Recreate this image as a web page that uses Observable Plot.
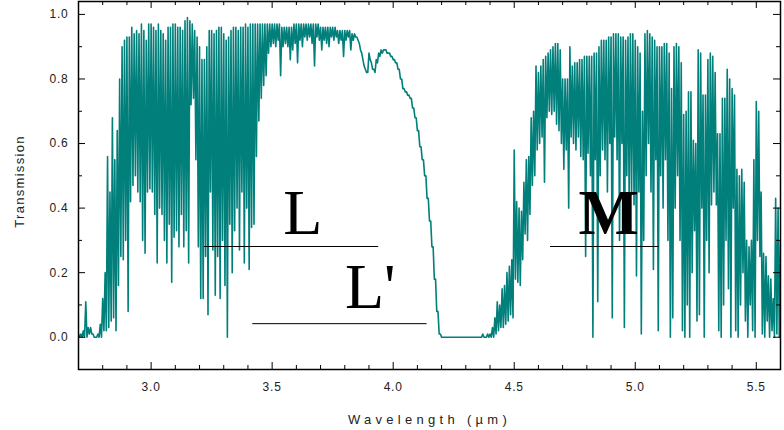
<!DOCTYPE html>
<html>
<head>
<meta charset="utf-8">
<script src="https://cdn.jsdelivr.net/npm/d3@7"></script>
<script src="https://cdn.jsdelivr.net/npm/@observablehq/plot@0.6"></script>
<style>
  html, body { margin: 0; padding: 0; background: #ffffff; }
  #chart svg { display: block; }
</style>
</head>
<body>
<div id="chart"></div>
<script>
// Spectrum sampled in 0.01 µm bins starting at 2.70 µm:
// for each bin, the highest and lowest transmission read off the picture (in %).
const wavelengthStart = 2.70;
const wavelengthStep = 0.01;

const transmissionHigh = [
  1, 1, 2, 11, 3, 3, 1, 0, 1, 4,            // 2.70
  12, 20, 56, 45, 68, 55, 64, 80, 90, 92,   // 2.80
  93, 93, 96, 94, 95, 94, 97, 95, 92, 97,   // 2.90
  97, 96, 95, 97, 95, 94, 92, 96, 96, 97,   // 3.00
  97, 96, 96, 95, 98, 99, 98, 97, 95, 93,   // 3.10
  90, 86, 86, 90, 95, 95, 94, 95, 96, 96,   // 3.20
  94, 92, 93, 95, 96, 96, 95, 96, 96, 97,   // 3.30
  96, 97, 97, 97, 97, 97, 97, 97, 97, 97,   // 3.40
  97, 97, 97, 97, 96, 96, 96, 96, 96, 97,   // 3.50
  97, 97, 97, 97, 97, 97, 97, 97, 97, 97,   // 3.60
  96, 96, 96, 96, 96, 96, 96, 95, 95, 95,   // 3.70
  95, 95, 95, 94, 94, 93, 91, 88, 84, 82,   // 3.80
  88, 85, 83, 86, 88, 89, 89, 89, 88, 87,   // 3.90
  86, 85, 83, 80, 77, 76, 75, 74, 71, 68,   // 4.00
  64, 59, 55, 50, 43, 36, 28, 18, 8, 1,     // 4.10
  0, 0, 0, 0, 0, 0, 0, 0, 0, 0,             // 4.20
  0, 0, 0, 0, 0, 0, 0, 1, 0, 1,             // 4.30
  1, 3, 6, 11, 10, 15, 16, 20, 22, 24,      // 4.40
  58, 42, 40, 39, 48, 55, 56, 68, 70, 84,   // 4.50
  82, 84, 86, 87, 88, 89, 90, 91, 91, 89,   // 4.60
  80, 80, 80, 90, 84, 85, 85, 86, 86, 87,   // 4.70
  87, 87, 87, 88, 88, 90, 92, 92, 92, 93,   // 4.80
  93, 94, 94, 94, 93, 93, 92, 93, 94, 94,   // 4.90
  92, 90, 88, 70, 94, 95, 94, 93, 92, 90,   // 5.00
  90, 90, 91, 91, 88, 77, 90, 91, 90, 85,   // 5.10
  69, 70, 76, 76, 61, 60, 89, 88, 75, 75,   // 5.20
  86, 88, 87, 82, 63, 63, 74, 74, 83, 80,   // 5.30
  77, 75, 52, 50, 52, 48, 30, 28, 30, 55,   // 5.40
  73, 70, 45, 26, 25, 19, 18, 12, 43, 40,   // 5.50
  30                                        // 5.60
];

const transmissionLow = [
  0, 0, 0, 0, 1, 1, 0, 0, 0, 0,             // 2.70
  2, 2, 3, 5, 6, 2, 16, 25, 24, 30,         // 2.80
  8, 42, 47, 50, 45, 42, 30, 26, 45, 46,    // 2.90
  45, 38, 23, 40, 38, 30, 23, 35, 17, 31,   // 3.00
  33, 28, 38, 28, 33, 23, 72, 74, 55, 28,   // 3.10
  12, 12, 25, 7, 45, 27, 13, 25, 12, 30,    // 3.20
  16, 0, 35, 20, 33, 40, 27, 45, 23, 40,    // 3.30
  21, 34, 35, 56, 67, 74, 78, 81, 88, 90,   // 3.40
  91, 90, 92, 81, 90, 91, 90, 86, 89, 91,   // 3.50
  85, 92, 90, 93, 92, 93, 91, 84, 93, 92,   // 3.60
  89, 92, 91, 90, 93, 92, 93, 91, 92, 87,   // 3.70
  92, 93, 89, 92, 93, 92, 89, 86, 83, 82,   // 3.80
  86, 83, 82, 85, 87, 88, 89, 88, 88, 87,   // 3.90
  86, 85, 83, 80, 77, 76, 75, 74, 71, 68,   // 4.00
  64, 59, 55, 50, 43, 36, 28, 18, 8, 1,     // 4.10
  0, 0, 0, 0, 0, 0, 0, 0, 0, 0,             // 4.20
  0, 0, 0, 0, 0, 0, 0, 0, 0, 0,             // 4.30
  0, 0, 1, 2, 3, 3, 4, 5, 7, 6,             // 4.40
  18, 17, 16, 24, 32, 30, 38, 47, 50, 58,   // 4.50
  60, 62, 48, 68, 70, 69, 70, 66, 64, 60,   // 4.60
  52, 58, 40, 62, 60, 58, 62, 56, 55, 25,   // 4.70
  57, 50, 0, 55, 11, 50, 58, 55, 45, 60,    // 4.80
  6, 62, 55, 30, 60, 3, 50, 40, 45, 41,     // 4.90
  19, 45, 1, 30, 50, 60, 45, 21, 55, 2,     // 5.00
  50, 40, 55, 30, 0, 6, 40, 50, 30, 2,      // 5.10
  0, 10, 0, 20, 33, 5, 7, 40, 0, 30,        // 5.20
  20, 41, 45, 41, 2, 0, 10, 30, 15, 0,      // 5.30
  40, 2, 0, 10, 20, 5, 0, 10, 2, 0,         // 5.40
  30, 25, 1, 0, 5, 0, 2, 0, 1, 0,           // 5.50
  2                                         // 5.60
];

const xMajorTicks = [3.0, 3.5, 4.0, 4.5, 5.0, 5.5];
const xMinorTicks = [2.8, 2.9, 3.1, 3.2, 3.3, 3.4, 3.6, 3.7, 3.8, 3.9, 4.1, 4.2, 4.3, 4.4,
                     4.6, 4.7, 4.8, 4.9, 5.1, 5.2, 5.3, 5.4, 5.6];
const yMajorTicks = [0.0, 0.2, 0.4, 0.6, 0.8, 1.0];
const yMinorTicks = [0.1, 0.3, 0.5, 0.7, 0.9];

// Photometric bands: name, start and end wavelength (µm), level of the bar
const bandNames = ["L", "L'", "M"];
const bandStart = [3.22, 3.42, 4.65];
const bandEnd = [3.94, 4.14, 5.10];
const bandLevel = [0.281, 0.042, 0.281];
const bandLabelX = [3.627, 3.905, 4.89];
const bandLabelY = [0.321, 0.092, 0.321];

const xTitle = "Wavelength (\u00b5m)";
const yTitle = "Transmission";

// ---- build tables ----
const spectrum = [];
transmissionHigh.forEach((h, i) => {
  const w = wavelengthStart + i * wavelengthStep;
  spectrum.push({w, t: h / 100});
  if (i < transmissionHigh.length - 1) spectrum.push({w: w + wavelengthStep / 2, t: transmissionLow[i] / 100});
});
const bands = bandNames.map((name, i) => ({
  name, from: bandStart[i], to: bandEnd[i], level: bandLevel[i], lx: bandLabelX[i], ly: bandLabelY[i]
}));

const teal = "#007f7b";
const serif = "'Liberation Serif', 'Times New Roman', Times, serif";
const sans = "Arial, 'Liberation Sans', Helvetica, sans-serif";
const fmt = d3.format(".1f");

const chart = Plot.plot({
  width: 784,
  height: 430,
  marginLeft: 78,
  marginRight: 4,
  marginTop: 1,
  marginBottom: 61,
  x: {domain: [2.7, 5.6]},
  y: {domain: [-0.1, 1.04]},
  style: {fontFamily: sans, fontSize: "12px", color: "#222", background: "#ffffff", overflow: "visible"},
  marks: [
    Plot.line(spectrum, {x: "w", y: "t", stroke: teal, strokeWidth: 1.6, clip: true}),
    Plot.ruleY(bands, {y: "level", x1: "from", x2: "to", stroke: "#000", strokeWidth: 1}),
    Plot.text(bands.filter(d => d.name !== "M"), {
      x: "lx", y: "ly", text: "name", fontFamily: serif, fontSize: 64,
      textAnchor: "middle", lineAnchor: "bottom", fill: "#000"
    }),
    Plot.text(bands.filter(d => d.name === "M"), {
      x: "lx", y: "ly", text: "name", fontFamily: serif, fontSize: 64, fontWeight: "bold",
      textAnchor: "middle", lineAnchor: "bottom", fill: "#000"
    }),
    // inward ticks on all four sides
    Plot.tickX(xMajorTicks, {x: d => d, insetTop: 361, stroke: "#000"}),
    Plot.tickX(xMajorTicks, {x: d => d, insetBottom: 361, stroke: "#000"}),
    Plot.tickX(xMinorTicks, {x: d => d, insetTop: 364, stroke: "#000"}),
    Plot.tickX(xMinorTicks, {x: d => d, insetBottom: 364, stroke: "#000"}),
    Plot.tickY(yMajorTicks, {y: d => d, insetRight: 695, stroke: "#000"}),
    Plot.tickY(yMajorTicks, {y: d => d, insetLeft: 695, stroke: "#000"}),
    Plot.tickY(yMinorTicks, {y: d => d, insetRight: 698, stroke: "#000"}),
    Plot.tickY(yMinorTicks, {y: d => d, insetLeft: 698, stroke: "#000"}),
    Plot.frame({stroke: "#000", strokeWidth: 1.5}),
    Plot.axisX(xMajorTicks, {tickSize: 0, tickPadding: 13, tickFormat: fmt, label: null, fill: "#222"}),
    Plot.axisY(yMajorTicks, {tickSize: 0, tickPadding: 10, tickFormat: fmt, label: null, fill: "#222"}),
    Plot.text([xTitle], {frameAnchor: "bottom", dy: 54, textAnchor: "middle", lineAnchor: "bottom", fontSize: 13, fill: "#222"}),
    Plot.text([yTitle], {frameAnchor: "left", dx: -55, dy: -4, rotate: -90, textAnchor: "middle", lineAnchor: "bottom", fontSize: 13, fill: "#222"})
  ]
});

const svg = d3.select(chart);
svg.selectAll("text").each(function () {
  const t = this.textContent;
  if (t === xTitle) this.style.letterSpacing = "4.3px";
  else if (t === yTitle) this.style.letterSpacing = "1.3px";
  else if (/^\d\.\d$/.test(t)) this.style.letterSpacing = "0.8px";
});

document.getElementById("chart").appendChild(chart);
</script>
</body>
</html>
